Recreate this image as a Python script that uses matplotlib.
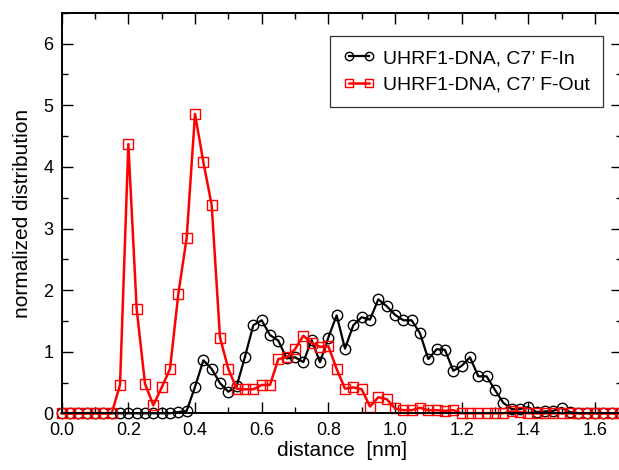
import matplotlib
matplotlib.use("Agg")
import matplotlib.pyplot as plt
import numpy as np
from matplotlib.ticker import MultipleLocator

plt.rcParams['font.family'] = ['Liberation Sans', 'DejaVu Sans']

# distance grid (nm), bin width 0.025
distance = np.round(np.arange(0, 1.676, 0.025), 3)

# C7' F-In (black circles)
f_in = [0, 0, 0, 0, 0, 0, 0, 0, 0, 0, 0, 0, 0, 0, 0.02, 0.04,
        0.43, 0.86, 0.72, 0.49, 0.35, 0.44, 0.92, 1.43, 1.51, 1.27,
        1.18, 0.89, 0.91, 0.83, 1.19, 0.83, 1.23, 1.59, 1.05, 1.43,
        1.56, 1.52, 1.85, 1.74, 1.60, 1.51, 1.51, 1.30, 0.88, 1.04,
        1.03, 0.69, 0.77, 0.91, 0.60, 0.60, 0.38, 0.17, 0.07, 0.07,
        0.10, 0.02, 0.03, 0.04, 0.09, 0.02, 0, 0, 0, 0, 0, 0]

# C7' F-Out (red squares)
f_out = [0, 0, 0, 0, 0, 0, 0, 0.46, 4.37, 1.69, 0.48, 0.13, 0.42, 0.72,
         1.94, 2.85, 4.86, 4.08, 3.38, 1.23, 0.72, 0.40, 0.39, 0.39,
         0.46, 0.46, 0.88, 0.91, 1.04, 1.26, 1.14, 1.08, 1.09, 0.72,
         0.40, 0.42, 0.39, 0.11, 0.26, 0.23, 0.08, 0.05, 0.05, 0.09,
         0.05, 0.05, 0.04, 0.05, 0, 0, 0, 0, 0, 0, 0.03, 0.02,
         0, 0, 0, 0, 0, 0, 0, 0, 0, 0, 0, 0]

labels = ["UHRF1-DNA, C7\u2019 F-In", "UHRF1-DNA, C7\u2019 F-Out"]

W, H = 619, 470
fig = plt.figure(figsize=(W / 100, H / 100), dpi=100)
x0, x1 = 61.7, 621.6
y0, y1 = 413.3, 12.9
ax = fig.add_axes([x0 / W, 1 - y0 / H, (x1 - x0) / W, (y0 - y1) / H])

ax.plot(distance, f_in, color='black', lw=1.6, marker='o', ms=7.5,
        mfc='none', mec='black', mew=1.0, clip_on=False, label=labels[0])
ax.plot(distance, f_out, color='red', lw=1.8, marker='s', ms=6.5,
        mfc='none', mec='red', mew=1.0, clip_on=False, label=labels[1])

ax.set_xlim(0, 1.68)
ax.set_ylim(0, 6.5)
ax.xaxis.set_minor_locator(MultipleLocator(0.1))
ax.yaxis.set_major_locator(MultipleLocator(1))
ax.yaxis.set_minor_locator(MultipleLocator(0.5))
ax.set_xticks(np.arange(0, 1.61, 0.2))
ax.set_xticklabels([f"{v:.1f}" for v in np.arange(0, 1.61, 0.2)])

ax.tick_params(which='both', direction='in', top=True, right=True,
               labelsize=13, width=1.0, pad=6)
ax.tick_params(which='major', length=8)
ax.tick_params(which='minor', length=4)
for s in ax.spines.values():
    s.set_linewidth(1.4)

ax.set_xlabel("distance  [nm]", fontsize=15, labelpad=2)
ax.set_ylabel("normalized distribution", fontsize=15, labelpad=8)

leg = ax.legend(loc='upper right', bbox_to_anchor=(603 / W, 1 - 36 / H),
                bbox_transform=fig.transFigure, fontsize=14, numpoints=2,
                fancybox=False, frameon=True, handlelength=1.6,
                handletextpad=0.4, borderpad=0.7, labelspacing=0.45,
                borderaxespad=0, markerscale=0.8)
leg.get_frame().set_edgecolor('black')
leg.get_frame().set_linewidth(0.9)

fig.savefig("out.png", dpi=100)
